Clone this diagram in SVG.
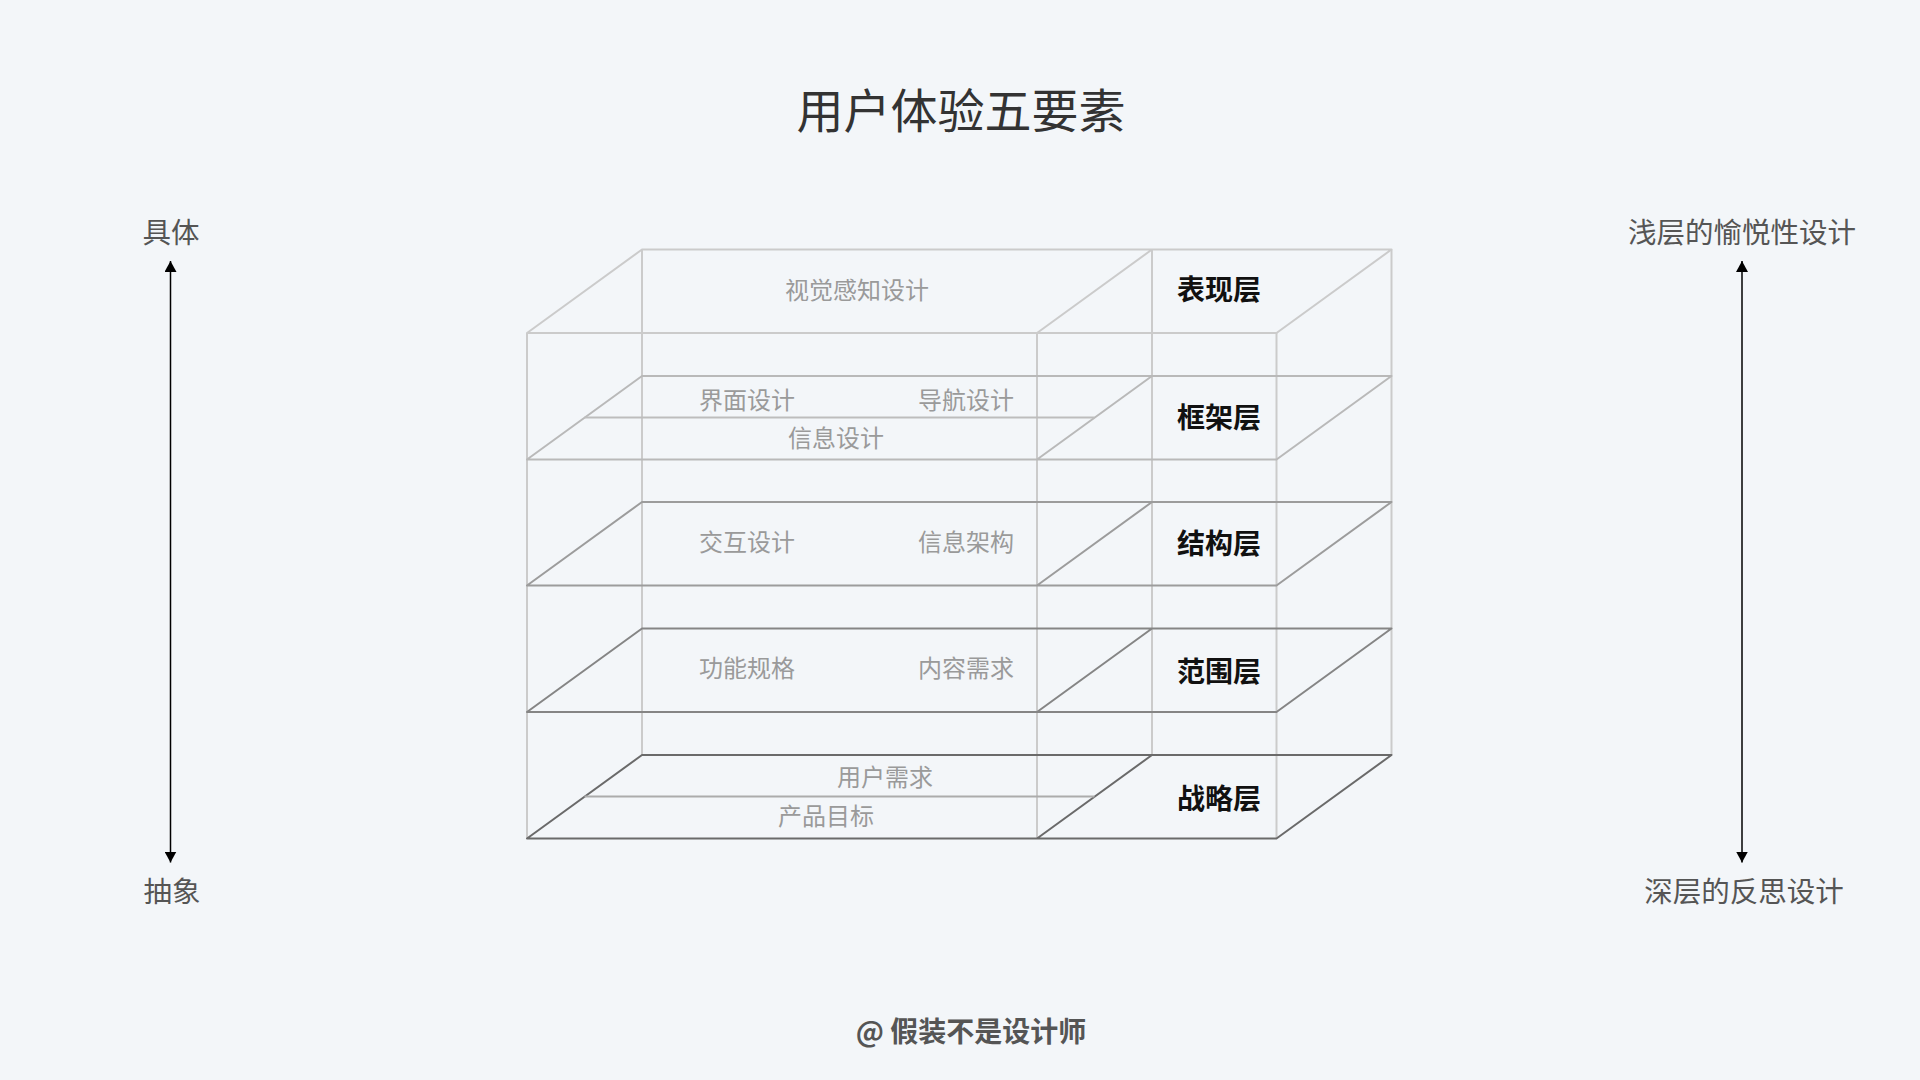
<svg xmlns="http://www.w3.org/2000/svg" width="1920" height="1080" viewBox="0 0 1920 1080">
<defs>
<style>
text{font-family:"Noto Sans CJK SC","Noto Sans",sans-serif;text-anchor:middle;dominant-baseline:central}
.title{font-size:47px;fill:#333}
.side{font-size:28.5px;fill:#555}
.item{font-size:24px;fill:#9a9a9a}
.layer{font-size:28px;font-weight:bold;fill:#111}
.foot{font-size:28px;font-weight:bold;fill:#555}
.v{stroke:#cbcbcb;stroke-width:2;fill:none}
.p{fill:none;stroke-width:2;stroke-linejoin:round}
.arrow{stroke:#000;stroke-width:1.5;fill:none}
</style>
<marker id="ah" viewBox="0 0 11 12" refX="11" refY="6" markerWidth="11" markerHeight="12" markerUnits="userSpaceOnUse" orient="auto-start-reverse">
<path d="M0,0 L11,6 L0,12 Z" fill="#000"/>
</marker>
</defs>
<rect width="1920" height="1080" fill="#f3f6f9"/>
<text class="title" x="961" y="107">用户体验五要素</text>

<g id="verticals">
<line class="v" x1="527" y1="333" x2="527" y2="838.5"/>
<line class="v" x1="1037" y1="333" x2="1037" y2="838.5"/>
<line class="v" x1="1276.5" y1="333" x2="1276.5" y2="838.5"/>
<line class="v" x1="642" y1="249.5" x2="642" y2="755"/>
<line class="v" x1="1152" y1="249.5" x2="1152" y2="755"/>
<line class="v" x1="1391.5" y1="249.5" x2="1391.5" y2="755"/>
</g>

<g id="layer-surface">
<path class="p" stroke="#cbcbcb" d="M642,249.5 H1391.5 L1276.5,333 H527 Z M1152,249.5 L1037,333"/>
<text class="item" x="857" y="288">视觉感知设计</text>
<text class="layer" x="1219" y="287.5">表现层</text>
</g>

<g id="layer-skeleton">
<path class="p" stroke="#b9b9b9" d="M642,376 H1391.5 L1276.5,459.5 H527 Z M1152,376 L1037,459.5"/>
<line stroke="#bdbdbd" stroke-width="2" x1="584.5" y1="417.5" x2="1094.5" y2="417.5"/>
<text class="item" x="747" y="398">界面设计</text>
<text class="item" x="966" y="398">导航设计</text>
<text class="item" x="836" y="436.5">信息设计</text>
<text class="layer" x="1219" y="415.5">框架层</text>
</g>

<g id="layer-structure">
<path class="p" stroke="#9c9c9c" d="M642,502 H1391.5 L1276.5,585.5 H527 Z M1152,502 L1037,585.5"/>
<text class="item" x="747" y="540.5">交互设计</text>
<text class="item" x="966" y="540.5">信息架构</text>
<text class="layer" x="1219" y="541.5">结构层</text>
</g>

<g id="layer-scope">
<path class="p" stroke="#858585" d="M642,628.5 H1391.5 L1276.5,712 H527 Z M1152,628.5 L1037,712"/>
<text class="item" x="747" y="666">功能规格</text>
<text class="item" x="966" y="666">内容需求</text>
<text class="layer" x="1219" y="669.5">范围层</text>
</g>

<g id="layer-strategy">
<path class="p" stroke="#6a6a6a" d="M642,755 H1391.5 L1276.5,838.5 H527 Z M1152,755 L1037,838.5"/>
<line stroke="#acacac" stroke-width="2" x1="584.5" y1="796.5" x2="1094.5" y2="796.5"/>
<text class="item" x="885" y="775.5">用户需求</text>
<text class="item" x="826" y="814">产品目标</text>
<text class="layer" x="1219" y="796.5">战略层</text>
</g>

<g id="left-axis">
<text class="side" x="171" y="230.5">具体</text>
<text class="side" x="172" y="889.5">抽象</text>
</g>
<g id="right-axis">
<text class="side" x="1742" y="230">浅层的愉悦性设计</text>
<text class="side" x="1744" y="889.5">深层的反思设计</text>
</g>
<g id="connectors">
<line class="arrow" x1="170.5" y1="261" x2="170.5" y2="862.5" marker-start="url(#ah)" marker-end="url(#ah)"/>
<line class="arrow" x1="1742" y1="261" x2="1742" y2="862.5" marker-start="url(#ah)" marker-end="url(#ah)"/>
</g>

<text class="foot" x="971" y="1030">@ 假装不是设计师</text>
</svg>
